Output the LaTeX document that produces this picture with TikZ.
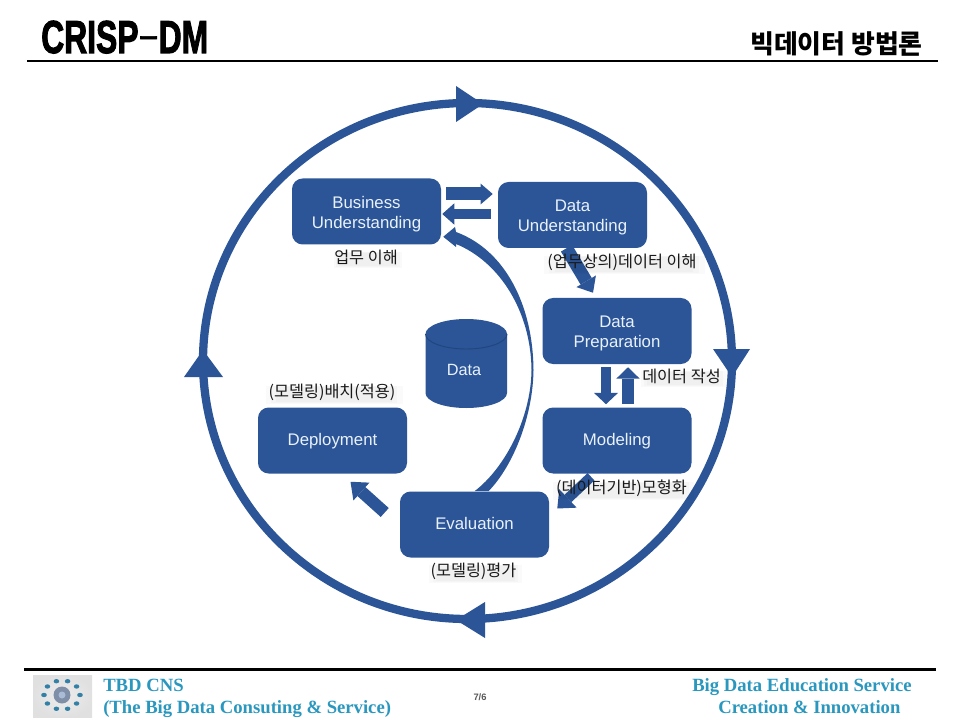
\documentclass[tikz,border=0pt]{standalone}
\usepackage{fontspec}
\usepackage{graphicx}
\usetikzlibrary{arrows.meta,calc,shadows}
\newfontfamily\korfont{Noto Sans CJK KR}
\newfontfamily\latfont{Liberation Sans}
\newfontfamily\heavyfont[FakeBold=2.5]{Liberation Sans Bold}
\newfontfamily\serfont{Liberation Serif}
\definecolor{boxblue}{HTML}{2B5597}
\definecolor{boxedge}{HTML}{21467F}
\definecolor{boxtext}{HTML}{E9F1FB}
\definecolor{foottext}{HTML}{2A97BE}
% struts that settle the baselines inside the step boxes
\newcommand{\twoline}{\rule{0pt}{13pt}}
\newcommand{\oneline}{\rule[-3pt]{0pt}{14.2pt}}
\tikzset{
  procbox/.style={fill=boxblue, rounded corners=8pt, minimum width=111.75pt, minimum height=49.5pt,
    inner sep=0pt, align=center, text=boxtext, font=\latfont\fontsize{12.6pt}{15pt}\selectfont},
  lbl/.style={font=\korfont\fontsize{12.2pt}{14pt}\selectfont, text=black!90, inner sep=0pt,
    general shadow={fill=black, fill opacity=.018, shadow xshift=1.5pt, shadow yshift=-2pt, shadow scale=1.08, rounded corners=5pt},
    general shadow={fill=black, fill opacity=.018, shadow xshift=1.5pt, shadow yshift=-2pt, shadow scale=1.0, rounded corners=5pt},
    general shadow={fill=black, fill opacity=.018, shadow xshift=1.5pt, shadow yshift=-2pt, shadow scale=.92, rounded corners=5pt}},
  blk/.style n args={3}{draw=boxblue, line width=#1, line cap=butt,
    -{Triangle[length=#2, width=#3, line width=0pt]}},
  ringline/.style={draw=boxblue, line width=6.2pt},
  ringhead/.style={fill=boxblue},
  rulebar/.style={draw=black, line cap=butt},
  foot/.style={font=\serfont\bfseries\fontsize{14pt}{17pt}\selectfont, text=foottext, inner sep=0pt, anchor=base west},
  logodot/.style={fill=boxblue!75!cyan!80!gray, draw=none}
}
\begin{document}
\begin{tikzpicture}[x=0.75pt,y=-0.75pt]
\useasboundingbox (0,0) rectangle (960,720);
\fill[white] (0,0) rectangle (960,720);

% header
\node[inner sep=0pt, anchor=base west] (title) at (41,53)
  {\scalebox{.69}[1]{\heavyfont\fontsize{34.6pt}{36pt}\selectfont CRISP\raisebox{7pt}{\scalebox{1.9}[.5]{-}}DM}};
\node[inner sep=0pt, anchor=base east, font=\korfont\bfseries\fontsize{19.4pt}{22pt}\selectfont] (subtitle) at (923,54) {빅데이터 방법론};
\coordinate (topL) at (27,61);
\coordinate (topR) at (938,61);
\draw[rulebar, line width=2pt] (topL) -- (topR);

% outer cycle
\draw[ringline] (467.5,361) ellipse [x radius=264.5, y radius=258];
\fill[ringhead] (456,86) -- (483,104) -- (456,122) -- cycle;
\fill[ringhead] (713,349) -- (750,349) -- (732,377) -- cycle;
\fill[ringhead] (456,620) -- (485,602) -- (485,638) -- cycle;
\fill[ringhead] (184,377) -- (203,350) -- (223,377) -- cycle;

% process steps
\node[procbox] (bu) at (366.5,211.5) {\twoline Business\\Understanding};
\node[procbox] (du) at (572.5,215) {\twoline Data\\Understanding};
\node[procbox] (dp) at (617,331) {\twoline Data\\Preparation};
\node[procbox] (mo) at (617,440.5) {\oneline Modeling};
\node[procbox] (ev) at (474.5,524.5) {\oneline Evaluation};
\node[procbox] (de) at (332.5,440.5) {\oneline Deployment};

% data store
\fill[boxblue] (425.5,334) arc [start angle=180, end angle=360, x radius=40.75, y radius=15]
  -- (507,393) arc [start angle=0, end angle=180, x radius=40.75, y radius=15] -- cycle;
\draw[boxedge, line width=.7pt] (425.5,334) arc [start angle=180, end angle=0, x radius=40.75, y radius=15];
\node[inner sep=0pt, text=boxtext, font=\latfont\fontsize{12.2pt}{15pt}\selectfont] (data) at (464,370) {Data};

% return path from evaluation to business understanding
\coordinate (curveTip) at ($(bu.south east)+(2,-8)$);
\coordinate (curveFoot) at (ev.north);
\fill[boxblue] (curveTip) -- (455,227) -- (456,232)
  .. controls (505,250) and (533,305) .. (533.5,370)
  .. controls (533,415) and (514,465) .. ($(curveFoot)+(14,0)$)
  -- ($(curveFoot)+(0,0)$)
  .. controls (505,468) and (531,418) .. (531.5,370)
  .. controls (531,312) and (500,262) .. (456,244)
  -- (456,247) -- cycle;

% step transitions
\draw[blk={9.75pt}{9pt}{15.5pt}] ($(bu.east)+(5,-17.5)$) -- ($(du.west)+(-5,-21)$);
\draw[blk={7.5pt}{9pt}{16pt}] ($(du.west)+(-7,-1)$) -- ($(bu.east)+(1,2.5)$);
\draw[blk={9.75pt}{10pt}{17pt}] ($(du.south)+(-6,0)$) -- ($(dp.north)+(-24,-5)$);
\draw[blk={7.5pt}{8.5pt}{18pt}] ($(dp.south)+(-11,3)$) -- ($(mo.north)+(-11,-3)$);
\draw[blk={9pt}{8.5pt}{17.5pt}] ($(mo.north)+(11,-3)$) -- ($(dp.south)+(11,3)$);
\draw[blk={7.5pt}{11pt}{19pt}] ($(mo.south)+(-26,3)$) -- ($(ev.east)+(8,-16)$);
\draw[blk={9pt}{11pt}{18pt}] ($(ev.west)+(-15,-12)$) -- ($(de.south)+(18,8)$);

% step captions
\node[lbl] (l1) at (366,257) {업무 이해};
\node[lbl] (l2) at (622,262) {(업무상의)데이터 이해};
\node[lbl] (l3) at (681.5,376) {데이터 작성};
\node[lbl] (l4) at (621.5,488) {(데이터기반)모형화};
\node[lbl] (l5) at (473.5,571) {(모델링)평가};
\node[lbl] (l6) at (332,392) {(모델링)배치(적용)};

% footer
\coordinate (botL) at (24,669.5);
\coordinate (botR) at (936,669.5);
\draw[rulebar, line width=2.3pt] (botL) -- (botR);
\shade[inner color=white!93!black, outer color=white!88!black] (33,675) rectangle (92,717);
\fill[boxblue!50!gray!75] (62,695) circle [radius=8.5];
\fill[white!60!boxblue] (62,695) circle [radius=3.5];
\foreach \a in {0,36,...,324}
  \fill[logodot] ({62+18*cos(\a)},{695+14.5*sin(\a)}) ellipse [x radius=2.8, y radius=2.2];
\node[foot] (f1) at (103,691) {TBD CNS};
\node[foot] (f2) at (103,713) {(The Big Data Consuting \& Service)};
\node[foot] (f3) at (692,691) {Big Data Education Service};
\node[foot] (f4) at (718,713) {Creation \& Innovation};
\node[inner sep=0pt, text=black!65, font=\latfont\bfseries\fontsize{7pt}{8pt}\selectfont] (pg) at (480,697) {7/6};
\end{tikzpicture}
\end{document}
